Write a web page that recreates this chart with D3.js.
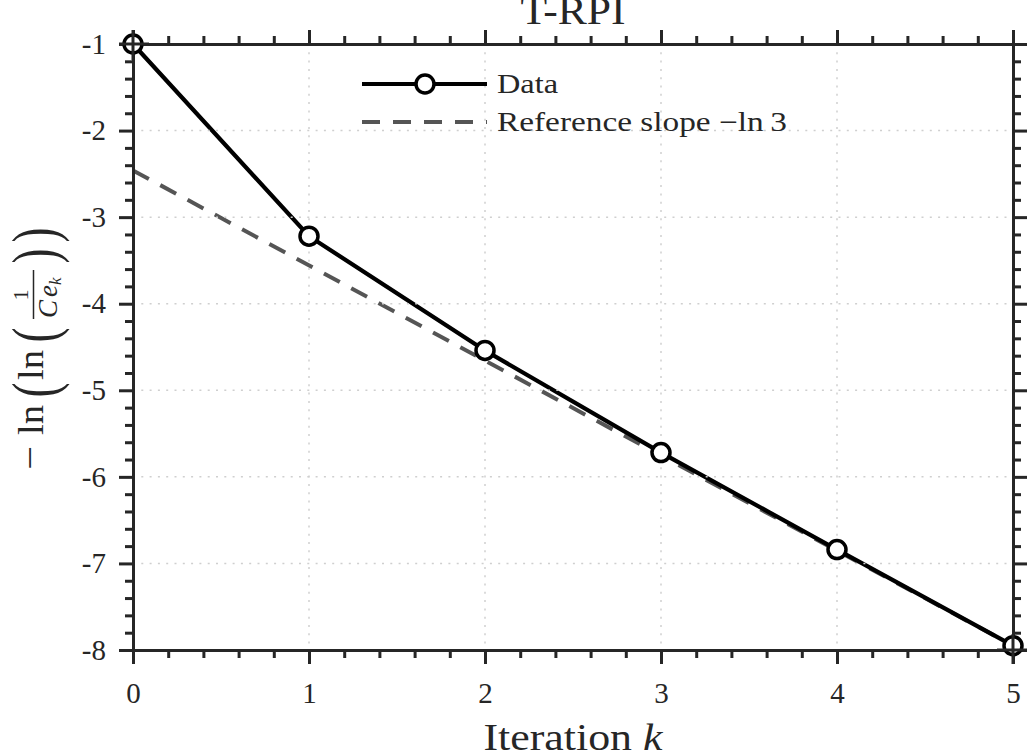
<!DOCTYPE html>
<html>
<head>
<meta charset="utf-8">
<script src="https://cdn.jsdelivr.net/npm/d3@7"></script>
<style>
  body { margin: 0; background: #fff; }
  svg text { font-family: "Liberation Serif", "Times New Roman", serif; fill: #262626; }
</style>
</head>
<body>
<svg id="chart"></svg>
<script>
// values
const iterations = [0, 1, 2, 3, 4, 5];
const dataValues = [-1.00, -3.22, -4.54, -5.72, -6.84, -7.95];
const refIterations = [0, 5];
const refValues = [-2.46, -7.95];
const xTicks = [0, 1, 2, 3, 4, 5];
const yTicks = [-1, -2, -3, -4, -5, -6, -7, -8];
const legendLabels = ["Data", "Reference slope \u2212ln\u20093"];

const width = 1029, height = 753;
const margin = {top: 44, right: 16, bottom: 103, left: 133};
const axisColor = "#262626";

const svg = d3.select("#chart")
    .attr("width", width)
    .attr("height", height);

const innerW = width - margin.left - margin.right;
const innerH = height - margin.top - margin.bottom;

const x = d3.scaleLinear().domain([0, 5]).range([0, innerW]);
const y = d3.scaleLinear().domain([-8, -1]).range([innerH, 0]);

const chart = svg.append("g")
    .attr("transform", `translate(${margin.left},${margin.top})`);

// data first, MATLAB style layer 'top' puts grid + axes over it
const line = d3.line()
    .x((d, i) => x(iterations[i]))
    .y(d => y(d));

chart.append("path")
    .datum(refValues)
    .attr("d", d3.line().x((d, i) => x(refIterations[i])).y(d => y(d)))
    .attr("fill", "none")
    .attr("stroke", "#555555")
    .attr("stroke-width", 4)
    .attr("stroke-dasharray", "18,13");

chart.append("path")
    .datum(dataValues)
    .attr("d", line)
    .attr("fill", "none")
    .attr("stroke", "#000")
    .attr("stroke-width", 4.2);

// grid
const grid = chart.append("g").attr("class", "grid");
grid.selectAll(".vgrid")
    .data(xTicks.slice(1, -1))
    .join("line")
    .attr("x1", d => x(d)).attr("x2", d => x(d))
    .attr("y1", 0).attr("y2", innerH)
    .attr("stroke", "#cfcfcf")
    .attr("stroke-width", 1.5)
    .attr("stroke-dasharray", "2,6.3");
grid.selectAll(".hgrid")
    .data(yTicks.slice(1, -1))
    .join("line")
    .attr("x1", 0).attr("x2", innerW)
    .attr("y1", d => y(d)).attr("y2", d => y(d))
    .attr("stroke", "#cfcfcf")
    .attr("stroke-width", 1.5)
    .attr("stroke-dasharray", "2,6.3");

// axes: major + minor on every side of the box
const xMinor = d3.range(0, 5.001, 0.2).filter(v => Math.abs(v - Math.round(v)) > 1e-6);
const yMinor = d3.range(-8, -0.999, 0.2).filter(v => Math.abs(v - Math.round(v)) > 1e-6);
const fmt = d => String(d);

function styleAxis(g) {
    g.select(".domain").attr("stroke", axisColor).attr("stroke-width", 3);
    g.selectAll(".tick line").attr("stroke", axisColor).attr("stroke-width", 3);
    g.selectAll(".tick text").attr("fill", axisColor).style("font-size", "29px")
        .style("font-family", "'Liberation Serif', serif");
}

const axes = [
    {gen: d3.axisBottom, scale: x, tr: `translate(0,${innerH})`, ticks: xTicks, minor: xMinor, labels: true, pad: 18},
    {gen: d3.axisTop, scale: x, tr: "translate(0,0)", ticks: xTicks, minor: xMinor, labels: false},
    {gen: d3.axisLeft, scale: y, tr: "translate(0,0)", ticks: yTicks, minor: yMinor, labels: true, pad: 13},
    {gen: d3.axisRight, scale: y, tr: `translate(${innerW},0)`, ticks: yTicks, minor: yMinor, labels: false}
];

axes.forEach(a => {
    chart.append("g")
        .attr("transform", a.tr)
        .call(a.gen(a.scale).tickValues(a.minor).tickSize(8).tickSizeOuter(0).tickFormat(""))
        .call(styleAxis);
    chart.append("g")
        .attr("transform", a.tr)
        .call(a.gen(a.scale).tickValues(a.ticks).tickSize(14).tickSizeOuter(0)
            .tickPadding(a.pad || 0).tickFormat(a.labels ? fmt : ""))
        .call(styleAxis);
});

// markers over the axes like the reference
chart.selectAll(".marker")
    .data(dataValues)
    .join("circle")
    .attr("class", "marker")
    .attr("cx", (d, i) => x(iterations[i]))
    .attr("cy", d => y(d))
    .attr("r", 9)
    .attr("fill", "#fff")
    .attr("stroke", "#000")
    .attr("stroke-width", 3.5);

// redraw the corner axis lines through the first / last markers
chart.append("line")
    .attr("x1", -14).attr("x2", 16).attr("y1", 0).attr("y2", 0)
    .attr("stroke", axisColor).attr("stroke-width", 3);
chart.append("line")
    .attr("x1", 0).attr("x2", 0).attr("y1", -14).attr("y2", 16)
    .attr("stroke", axisColor).attr("stroke-width", 3);
chart.append("line")
    .attr("x1", innerW - 16).attr("x2", innerW + 14).attr("y1", innerH).attr("y2", innerH)
    .attr("stroke", axisColor).attr("stroke-width", 3);
chart.append("line")
    .attr("x1", innerW).attr("x2", innerW).attr("y1", innerH - 16).attr("y2", innerH + 14)
    .attr("stroke", axisColor).attr("stroke-width", 3);

// title (cut at the top edge in the reference too)
svg.append("text")
    .attr("x", margin.left + innerW / 2)
    .attr("y", 24)
    .attr("text-anchor", "middle")
    .attr("textLength", 105)
    .attr("lengthAdjust", "spacingAndGlyphs")
    .style("font-size", "40px")
    .text("T-RPI");

// x label
const xl = svg.append("text")
    .attr("x", margin.left + innerW / 2)
    .attr("y", 750)
    .attr("text-anchor", "middle")
    .attr("textLength", 179)
    .attr("lengthAdjust", "spacingAndGlyphs")
    .style("font-size", "37px");
xl.append("tspan").text("Iteration ");
xl.append("tspan").style("font-style", "italic").text("k");

// y label: -ln( ln( 1 / (C e_k) ) ), built in rotated frame
const yl = svg.append("g").attr("transform", "translate(43,470) rotate(-90)");
function piece(txt, u, v, size, opts = {}) {
    const t = yl.append("text")
        .attr("x", u).attr("y", v)
        .attr("text-anchor", opts.anchor || "start")
        .style("font-size", size + "px")
        .text(txt);
    if (opts.italic) t.style("font-style", "italic");
    if (opts.len) t.attr("textLength", opts.len).attr("lengthAdjust", "spacingAndGlyphs");
    return t;
}
function paren(txt, u) {
    // stretched delimiter
    yl.append("text")
        .attr("transform", `translate(${u},-4) scale(1.25,1.75)`)
        .attr("y", 9.5)
        .attr("text-anchor", "middle")
        .style("font-size", "36px")
        .text(txt);
}
piece("\u2212", 0, -1, 36, {len: 24});
piece("ln", 35, 0, 36, {len: 30});
paren("(", 80);
piece("ln", 90, 0, 36, {len: 30});
paren("(", 135);
piece("1", 175, -15, 22, {anchor: "middle"});
yl.append("line")
    .attr("x1", 151).attr("x2", 200)
    .attr("y1", -9.5).attr("y2", -9.5)
    .attr("stroke", axisColor).attr("stroke-width", 1.5);
const den = piece("", 152, 14, 27, {italic: true});
den.append("tspan").text("C");
den.append("tspan").attr("dx", 3).text("e");
den.append("tspan").attr("dy", 4).style("font-size", "17px").text("k");
paren(")", 214);
paren(")", 235);

// legend
const legend = svg.append("g").attr("class", "legend");
legend.append("line")
    .attr("x1", 362).attr("x2", 487).attr("y1", 84).attr("y2", 84)
    .attr("stroke", "#000").attr("stroke-width", 4.2);
legend.append("circle")
    .attr("cx", 425).attr("cy", 84).attr("r", 9)
    .attr("fill", "#fff").attr("stroke", "#000").attr("stroke-width", 3.5);
legend.append("line")
    .attr("x1", 362).attr("x2", 487).attr("y1", 122).attr("y2", 122)
    .attr("stroke", "#555555").attr("stroke-width", 4)
    .attr("stroke-dasharray", "18,13");
const legendWidths = [61, 290];
legend.selectAll(".ltext")
    .data(legendLabels)
    .join("text")
    .attr("x", 497)
    .attr("y", (d, i) => 93 + i * 38)
    .attr("textLength", (d, i) => legendWidths[i])
    .attr("lengthAdjust", "spacingAndGlyphs")
    .style("font-size", "27px")
    .text(d => d);
</script>
</body>
</html>
